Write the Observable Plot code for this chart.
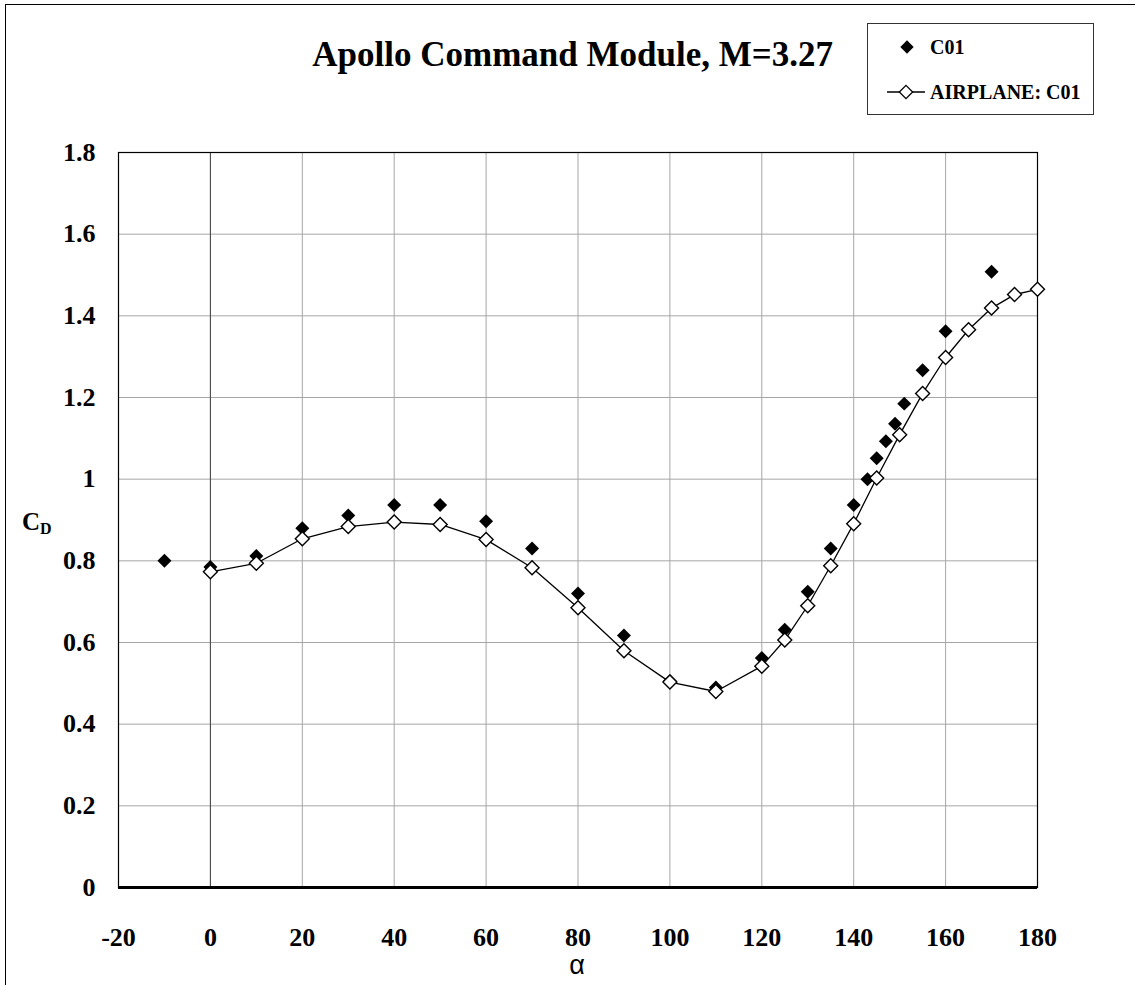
<!DOCTYPE html>
<html>
<head>
<meta charset="utf-8">
<script src="https://cdn.jsdelivr.net/npm/d3@7"></script>
<script src="https://cdn.jsdelivr.net/npm/@observablehq/plot@0.6"></script>
<style>
  html, body { margin: 0; padding: 0; background: #fff; }
  #wrap { position: relative; width: 1135px; height: 985px; overflow: hidden; }
  #outer { position: absolute; left: 5px; top: 4px; width: 1140px; height: 1000px;
           border-left: 1.5px solid #000; border-top: 1.5px solid #000; box-sizing: border-box; }
  #title { position: absolute; right: 302px; top: 35px; line-height: 40px; white-space: nowrap;
           font-family: "Liberation Serif", "Times New Roman", serif; font-weight: bold; font-size: 35px; color: #000; }
  #legend { position: absolute; left: 867px; top: 23px; width: 227px; height: 92px;
            border: 1px solid #333; box-sizing: border-box; background: #fff; }
  #ylab { position: absolute; left: 22px; top: 507px; line-height: 30px;
          font-family: "Liberation Serif", serif; font-weight: bold; font-size: 25px; }
  #ylab sub { font-size: 16px; vertical-align: -4px; }
  #xlab { position: absolute; left: 527px; width: 100px; text-align: center; top: 950px; line-height: 30px;
          font-family: "Liberation Sans", Arial, sans-serif; font-size: 27px; }
  #chart { position: absolute; left: 0; top: 0; }
</style>
</head>
<body>
<div id="wrap">
  <div id="outer"></div>
  <div id="chart"></div>
  <div id="title">Apollo Command Module, M=3.27</div>
  <div id="legend"></div>
  <div id="ylab">C<sub>D</sub></div>
  <div id="xlab">α</div>
</div>
<script>
// C01 (filled diamonds)
const c01Alpha = [-10, 0, 10, 20, 30, 40, 50, 60, 70, 80, 90, 100, 110, 120, 125, 130, 135, 140, 143, 145, 147, 149, 151, 155, 160, 170];
const c01Cd    = [0.800, 0.785, 0.812, 0.880, 0.911, 0.937, 0.937, 0.897, 0.830, 0.720, 0.617, 0.506, 0.490, 0.562, 0.631, 0.724, 0.830, 0.937, 1.000, 1.051, 1.093, 1.136, 1.185, 1.267, 1.362, 1.508];
// AIRPLANE: C01 (open diamonds + line)
const airAlpha = [0, 10, 20, 30, 40, 50, 60, 70, 80, 90, 100, 110, 120, 125, 130, 135, 140, 145, 150, 155, 160, 165, 170, 175, 180];
const airCd    = [0.773, 0.794, 0.854, 0.884, 0.895, 0.889, 0.852, 0.783, 0.685, 0.580, 0.503, 0.480, 0.542, 0.606, 0.690, 0.788, 0.891, 1.003, 1.109, 1.210, 1.298, 1.366, 1.419, 1.452, 1.465];
// ticks
const xTicks = [-20, 0, 20, 40, 60, 80, 100, 120, 140, 160, 180];
const yTicks = [0, 0.2, 0.4, 0.6, 0.8, 1, 1.2, 1.4, 1.6, 1.8];
const seriesNames = ["C01", "AIRPLANE: C01"];

const c01 = c01Alpha.map((a, i) => ({alpha: a, cd: c01Cd[i]}));
const air = airAlpha.map((a, i) => ({alpha: a, cd: airCd[i]}));

const font = "Liberation Serif, Times New Roman, serif";
const chart = Plot.plot({
  width: 1135,
  height: 985,
  marginTop: 152,
  marginLeft: 118,
  marginRight: 98,
  marginBottom: 98,
  style: {background: "transparent", fontFamily: font, color: "#000"},
  x: {domain: [-20, 180]},
  y: {domain: [0, 1.8]},
  marks: [
    Plot.gridX(xTicks, {stroke: "#a6a6a6", strokeOpacity: 1, strokeWidth: 1}),
    Plot.gridY(yTicks, {stroke: "#a6a6a6", strokeOpacity: 1, strokeWidth: 1}),
    Plot.ruleX([0], {stroke: "#444", strokeWidth: 1}),
    Plot.frame({stroke: "#000", strokeWidth: 1.2}),
    Plot.ruleY([0], {stroke: "#000", strokeWidth: 3}),
    Plot.axisX(xTicks, {tickSize: 0, tickPadding: 40, fontSize: 26, fontWeight: "bold", label: null, tickFormat: d => String(d)}),
    Plot.axisY(yTicks, {tickSize: 0, tickPadding: 23, fontSize: 26, fontWeight: "bold", label: null, tickFormat: d => String(d)}),
    Plot.dot(c01, {x: "alpha", y: "cd", symbol: "diamond2", r: 6.3, fill: "#000", stroke: "none"}),
    Plot.line(air, {x: "alpha", y: "cd", stroke: "#000", strokeWidth: 1.3}),
    Plot.dot(air, {x: "alpha", y: "cd", symbol: "diamond2", r: 6.3, fill: "#fff", stroke: "#000", strokeWidth: 1.4})
  ]
});
document.getElementById("chart").appendChild(chart);

// legend
const lg = d3.select("#legend").append("svg").attr("width", 227).attr("height", 92)
  .style("position", "absolute").style("left", "-1px").style("top", "-1px");
lg.append("path").attr("d", d3.symbol(d3.symbolDiamond2, Math.PI * 6 * 6)()).attr("transform", "translate(40,24)").attr("fill", "#000");
lg.append("line").attr("x1", 20).attr("x2", 58).attr("y1", 69).attr("y2", 69).attr("stroke", "#000").attr("stroke-width", 1.3);
lg.append("path").attr("d", d3.symbol(d3.symbolDiamond2, Math.PI * 6 * 6)()).attr("transform", "translate(39,69)").attr("fill", "#fff").attr("stroke", "#000").attr("stroke-width", 1.3);
lg.selectAll("text.lab").data(seriesNames).join("text").attr("class", "lab")
  .attr("x", 63).attr("y", (d, i) => i === 0 ? 24 : 69).attr("dy", "0.35em")
  .attr("font-family", font).attr("font-weight", "bold").attr("font-size", 20).text(d => d);
</script>
</body>
</html>
